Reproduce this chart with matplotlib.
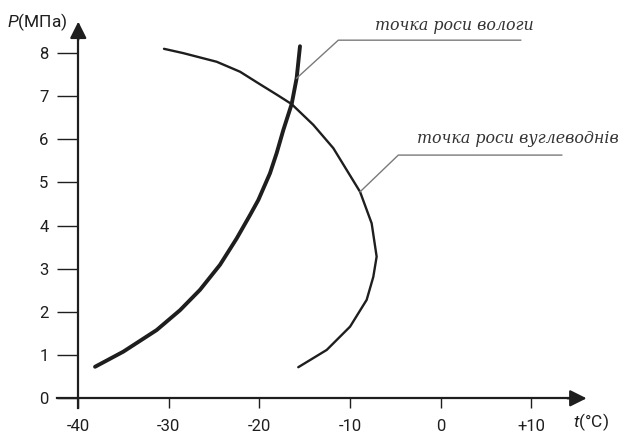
import matplotlib
matplotlib.use("Agg")
from matplotlib import pyplot as plt

# dew point of moisture (thick curve)
moisture_t = [-38.15, -35.03, -31.35, -28.77, -26.57, -24.36, -22.52, -21.05,
              -20.13, -18.84, -18.1, -17.37, -16.45, -15.9, -15.53]
moisture_p = [0.73, 1.08, 1.58, 2.04, 2.51, 3.09, 3.70, 4.24,
              4.59, 5.21, 5.68, 6.21, 6.81, 7.41, 8.15]

# dew point of hydrocarbons
hydro_t = [-30.54, -28.41, -24.72, -22.15, -19.95, -18.1, -16.45, -14.06,
           -11.85, -8.9, -7.62, -7.07, -7.44, -8.17, -10.0, -12.58, -15.72]
hydro_p = [8.09, 7.99, 7.79, 7.56, 7.27, 7.03, 6.81, 6.33,
           5.79, 4.78, 4.05, 3.28, 2.81, 2.28, 1.66, 1.12, 0.72]

x_ticks = [-40, -30, -20, -10, 0, 10]
x_tick_labels = ["-40", "-30", "-20", "-10", "0", "+10"]
y_ticks = [0, 1, 2, 3, 4, 5, 6, 7, 8]

label_moisture = "точка роси вологи"
label_hydro = "точка роси вуглеводнів"

INK = "#1e1e1e"
LEADER = "#7a7a7a"

plt.rcParams["font.family"] = ["Roboto", "DejaVu Sans"]
plt.rcParams["mathtext.fontset"] = "custom"
plt.rcParams["mathtext.it"] = "Roboto:italic"
plt.rcParams["mathtext.rm"] = "Roboto"


def main():
    fig = plt.figure(figsize=(6.23, 4.34), dpi=100)
    ax = fig.add_axes([0, 0, 1, 1])
    ax.set_xlim(-48.64, 20.12)
    ax.set_ylim(-0.826, 9.22)

    for side in ["top", "right"]:
        ax.spines[side].set_visible(False)
    ax.spines["left"].set_position(("data", -40))
    ax.spines["bottom"].set_position(("data", 0))
    ax.spines["left"].set_bounds(-0.23, 8.5)
    ax.spines["bottom"].set_bounds(-42.3, 15.0)
    for side in ["left", "bottom"]:
        ax.spines[side].set_linewidth(1.6)
        ax.spines[side].set_color(INK)

    ax.set_xticks(x_ticks)
    ax.set_xticklabels(x_tick_labels)
    ax.set_yticks(y_ticks)
    ax.tick_params(axis="x", direction="out", length=7.2, width=1.0,
                   color=INK, pad=8, labelsize=12, labelcolor=INK)
    ax.tick_params(axis="y", direction="out", length=15, width=1.0,
                   color=INK, pad=6.5, labelsize=12, labelcolor=INK)

    # arrow heads
    head = dict(arrowstyle="-|>,head_length=0.5,head_width=0.25",
                color=INK, lw=1.6, mutation_scale=20, shrinkA=0, shrinkB=0)
    ax.annotate("", xy=(-40, 8.72), xytext=(-40, 8.3), arrowprops=head)
    ax.annotate("", xy=(16.1, 0), xytext=(14.0, 0), arrowprops=head)

    ax.text(-41.2, 8.71, "$P$(МПа)", ha="right", va="center",
            fontsize=12.5, color=INK)
    ax.text(14.6, -0.55, "$t$(°C)", ha="left", va="center",
            fontsize=12.5, color=INK)

    ax.plot(moisture_t, moisture_p, color=INK, lw=2.8,
            solid_capstyle="round", solid_joinstyle="round")
    ax.plot(hydro_t, hydro_p, color=INK, lw=1.7,
            solid_capstyle="round", solid_joinstyle="round")

    # leader lines and labels
    ax.plot([-15.9, -11.3, 8.83], [7.41, 8.29, 8.29], color=LEADER, lw=1.0)
    ax.plot([-8.9, -4.68, 13.36], [4.78, 5.63, 5.63], color=LEADER, lw=1.0)
    ax.text(-7.25, 8.53, label_moisture, ha="left", va="baseline",
            fontsize=11.4, style="italic", color="#333333",
            family=["DejaVu Serif"])
    ax.text(-2.65, 5.9, label_hydro, ha="left", va="baseline",
            fontsize=11.4, style="italic", color="#333333",
            family=["DejaVu Serif"])

    fig.savefig("out.png", dpi=100)


if __name__ == "__main__":
    main()
